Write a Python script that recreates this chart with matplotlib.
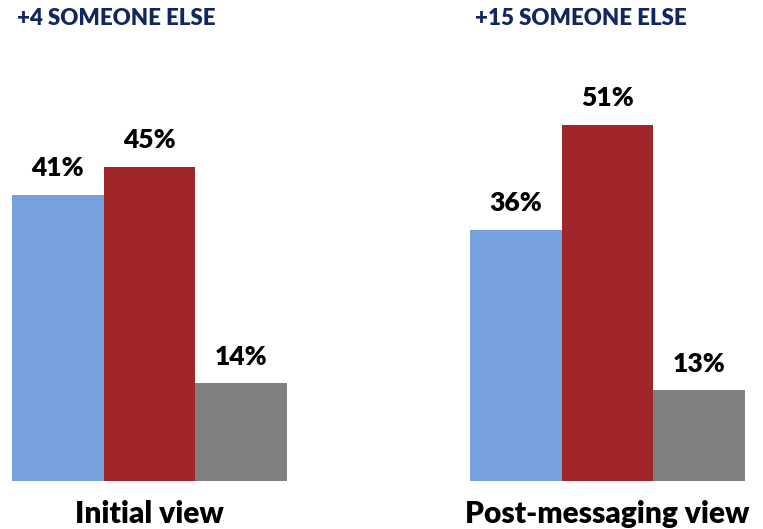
import matplotlib
matplotlib.use("Agg")
import matplotlib.pyplot as plt
import numpy as np

plt.rcParams['font.family'] = ['Lato', 'DejaVu Sans']

groups = ['Initial view', 'Post-messaging view']
headers = ['+4 SOMEONE ELSE', '+15 SOMEONE ELSE']
series_colors = ['#77A1DE', '#A0262A', '#808080']
values = [
    [41, 45, 14],
    [36, 51, 13],
]

fig = plt.figure(figsize=(7.63, 5.29), dpi=100)
ax = fig.add_axes([0, 48 / 529, 1, 1 - 48 / 529])

group_starts = [0, 5]
for g, start in enumerate(group_starts):
    xs = start + np.arange(3)
    bars = ax.bar(xs, values[g], width=1.0, color=series_colors, edgecolor='none')
    for x, v in zip(xs, values[g]):
        ax.text(x, v + 2.1, f'{v}%', ha='center', va='bottom',
                fontsize=19, fontweight='heavy', color='black')
    ax.text(start + 1, -4.7, groups[g], ha='center', va='center',
            fontsize=21.5, fontweight='heavy', color='black')
    ax.text(start - 0.45, 66.3, headers[g], ha='left', va='center',
            fontsize=16, fontweight='heavy', color='#12275F')

ax.set_xlim(-0.631, 7.697)
ax.set_ylim(0, 481 / 6.98)
ax.axis('off')

fig.savefig('out.png', dpi=100)
